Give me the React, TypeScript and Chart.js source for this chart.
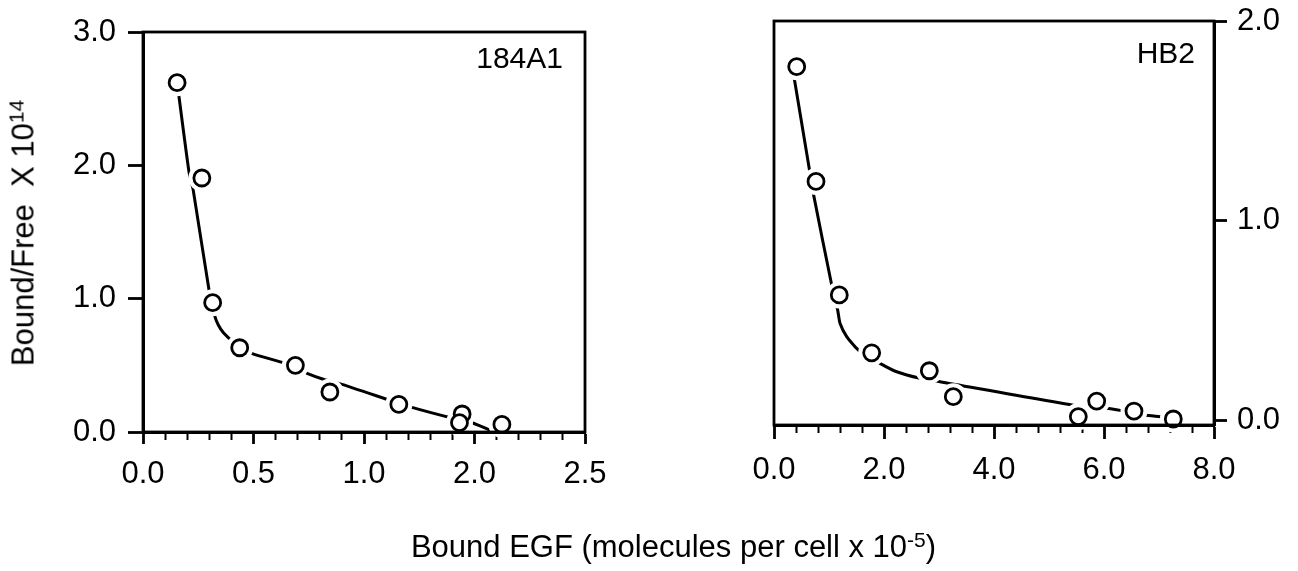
import React, { useEffect, useRef } from "react";
import { Chart, registerables } from "chart.js";

Chart.register(...registerables);

const FONT_FAMILY = '"Liberation Sans", Arial, Helvetica, sans-serif';

// ---------- Panel 1 : 184A1 ----------
const panel1Name = "184A1";
const panel1Bound = [0.193, 0.333, 0.394, 0.547, 0.862, 1.057, 1.447, 1.805, 1.79, 2.03];
const panel1Ratio = [2.62, 1.905, 0.97, 0.632, 0.5, 0.3, 0.207, 0.135, 0.07, 0.057];
const panel1FitBound = [0.193, 0.26, 0.284, 0.375, 0.407, 0.426, 0.455, 0.511, 0.615, 0.805, 0.928, 1.032, 1.108, 1.392, 1.506, 1.752, 1.847, 1.97];
const panel1FitRatio = [2.623, 1.952, 1.815, 1.052, 0.865, 0.803, 0.745, 0.677, 0.59, 0.515, 0.44, 0.39, 0.365, 0.24, 0.19, 0.103, 0.077, 0.01];
const panel1XTickLabels = ["0.0", "0.5", "1.0", "2.0", "2.5"];
const panel1YTickValues = [0, 1, 2, 3];
const panel1YTickLabels = ["0.0", "1.0", "2.0", "3.0"];

// ---------- Panel 2 : HB2 ----------
const panel2Name = "HB2";
const panel2Bound = [0.413, 0.764, 1.187, 1.776, 2.824, 3.26, 5.533, 5.867, 6.545, 7.26];
const panel2Ratio = [1.771, 1.196, 0.627, 0.337, 0.247, 0.117, 0.017, 0.095, 0.045, 0.005];
const panel2FitBound = [0.333, 0.655, 0.715, 1.049, 1.158, 1.2, 1.322, 1.533, 1.927, 2.231, 2.655, 3.018, 5.595, 6.049, 6.322, 6.745, 7.078, 7.26];
const panel2FitRatio = [1.771, 1.237, 1.136, 0.677, 0.551, 0.485, 0.418, 0.351, 0.284, 0.242, 0.209, 0.192, 0.067, 0.059, 0.047, 0.025, 0.014, 0.005];
const panel2XTickLabels = ["0.0", "2.0", "4.0", "6.0", "8.0"];
const panel2YTickValues = [0, 1, 2];
const panel2YTickLabels = ["0.0", "1.0", "2.0"];

// ---------- Shared titles ----------
const yTitleMain = "Bound/Free\u00a0 X 10";
const yTitleSup = "14";
const xTitleMain = "Bound EGF (molecules per cell x 10";
const xTitleSup = "-5";
const xTitleEnd = ")";

const MINOR_PER_MAJOR = 5;

function pts(xs: number[], ys: number[]) {
  return xs.map((x, i) => ({ x, y: ys[i] }));
}

const framePlugin = {
  id: "frame",
  afterDraw(chart: any, _args: any, opts: any) {
    const { ctx, chartArea: a } = chart;
    ctx.save();
    ctx.strokeStyle = "#000";
    ctx.lineWidth = 2.8;
    ctx.strokeRect(a.left, a.top, a.right - a.left, a.bottom - a.top);
    ctx.fillStyle = "#000";
    ctx.font = `30px ${FONT_FAMILY}`;
    ctx.textAlign = "right";
    ctx.textBaseline = "alphabetic";
    ctx.fillText(opts.name, a.right - opts.insetX, a.top + opts.insetY);
    ctx.restore();
  },
};

type Spec = {
  name: string;
  bound: number[];
  ratio: number[];
  fitBound: number[];
  fitRatio: number[];
  xMax: number;
  xTickLabels: string[];
  yMin: number;
  yMax: number;
  yTickValues: number[];
  yTickLabels: string[];
  yPosition: "left" | "right";
  yWidth: number;
  xHeight: number;
  padding: { left: number; right: number; top: number; bottom: number };
  xTickLength: number;
  xPad: number;
  yTickLength: number;
  yPad: number;
  insetX: number;
  insetY: number;
};

function buildConfig(s: Spec): any {
  const nMajor = s.xTickLabels.length - 1;
  const nTicks = nMajor * MINOR_PER_MAJOR + 1;
  const step = s.xMax / (nTicks - 1);
  const font = { family: FONT_FAMILY, size: 31 };
  return {
    type: "scatter",
    data: {
      datasets: [
        {
          label: "points",
          order: 0,
          data: pts(s.bound, s.ratio),
          pointRadius: 8,
          pointBorderWidth: 2.8,
          pointBackgroundColor: "#ffffff",
          pointBorderColor: "#000000",
          showLine: false,
          clip: false,
        },
        {
          label: "halo",
          order: 1,
          data: pts(s.bound, s.ratio),
          pointRadius: 13.5,
          pointBorderWidth: 0,
          pointBackgroundColor: "#ffffff",
          pointBorderColor: "#ffffff",
          showLine: false,
          clip: false,
        },
        {
          label: "fit",
          order: 2,
          data: pts(s.fitBound, s.fitRatio),
          showLine: true,
          borderColor: "#000000",
          borderWidth: 3,
          pointRadius: 0,
          tension: 0.2,
          clip: false,
        },
      ],
    },
    options: {
      responsive: false,
      animation: false,
      devicePixelRatio: 1,
      layout: { padding: s.padding },
      plugins: {
        legend: { display: false },
        tooltip: { enabled: false },
        frame: { name: s.name, insetX: s.insetX, insetY: s.insetY },
      },
      scales: {
        x: {
          type: "linear",
          position: "bottom",
          min: 0,
          max: s.xMax,
          afterBuildTicks: (scale: any) => {
            scale.ticks = Array.from({ length: nTicks }, (_, i) => ({ value: i * step }));
          },
          afterFit: (scale: any) => {
            scale.height = s.xHeight;
            scale.paddingLeft = 0;
            scale.paddingRight = 0;
          },
          ticks: {
            autoSkip: false,
            maxRotation: 0,
            minRotation: 0,
            padding: s.xPad,
            color: "#000",
            font,
            callback: (_v: any, i: number) =>
              i % MINOR_PER_MAJOR === 0 ? s.xTickLabels[i / MINOR_PER_MAJOR] : "",
          },
          grid: {
            drawOnChartArea: false,
            drawTicks: true,
            tickLength: s.xTickLength,
            tickColor: "#000",
            tickWidth: (ctx: any) => (ctx.index % MINOR_PER_MAJOR === 0 ? 2.8 : 2),
            tickBorderDash: (ctx: any) => (ctx.index % MINOR_PER_MAJOR === 0 ? [] : [6, 100]),
          },
          border: { display: true, color: "#000", width: 3, z: 1 },
        },
        y: {
          type: "linear",
          position: s.yPosition,
          min: s.yMin,
          max: s.yMax,
          afterBuildTicks: (scale: any) => {
            scale.ticks = s.yTickValues.map((v) => ({ value: v }));
          },
          afterFit: (scale: any) => {
            scale.width = s.yWidth;
            scale.paddingTop = 0;
            scale.paddingBottom = 0;
          },
          ticks: {
            autoSkip: false,
            padding: s.yPad,
            color: "#000",
            font,
            callback: (_v: any, i: number) => s.yTickLabels[i],
          },
          grid: {
            drawOnChartArea: false,
            drawTicks: true,
            tickLength: s.yTickLength,
            tickColor: "#000",
            tickWidth: 2.8,
          },
          border: { display: true, color: "#000", width: 3, z: 1 },
        },
      },
    },
    plugins: [framePlugin],
  };
}

const spec1: Spec = {
  name: panel1Name, bound: panel1Bound, ratio: panel1Ratio, fitBound: panel1FitBound, fitRatio: panel1FitRatio,
  xMax: 2.5, xTickLabels: panel1XTickLabels, yMin: 0, yMax: 3, yTickValues: panel1YTickValues, yTickLabels: panel1YTickLabels,
  yPosition: "left", yWidth: 143, xHeight: 139, padding: { left: 0, right: 55, top: 32, bottom: 0 },
  xTickLength: 12, xPad: 12, yTickLength: 15, yPad: 12, insetX: 22, insetY: 36,
};

const spec2: Spec = {
  name: panel2Name, bound: panel2Bound, ratio: panel2Ratio, fitBound: panel2FitBound, fitRatio: panel2FitRatio,
  xMax: 8, xTickLabels: panel2XTickLabels, yMin: -0.025, yMax: 2, yTickValues: panel2YTickValues, yTickLabels: panel2YTickLabels,
  yPosition: "right", yWidth: 84, xHeight: 146, padding: { left: 134, right: 0, top: 21, bottom: 0 },
  xTickLength: 14, xPad: 13, yTickLength: 13, yPad: 10, insetX: 19, insetY: 42,
};

function Panel({ spec, left, width }: { spec: Spec; left: number; width: number }) {
  const ref = useRef<HTMLCanvasElement | null>(null);
  useEffect(() => {
    if (!ref.current) return;
    const chart = new Chart(ref.current, buildConfig(spec));
    return () => chart.destroy();
  }, [spec]);
  return (
    <canvas ref={ref} width={width} height={571} style={{ position: "absolute", left, top: 0, width, height: 571 }} />
  );
}

export default function App() {
  const textStyle: React.CSSProperties = {
    position: "absolute", fontFamily: FONT_FAMILY, fontSize: 31, lineHeight: "31px", whiteSpace: "nowrap", color: "#000",
  };
  const supStyle: React.CSSProperties = {
    fontSize: 21, verticalAlign: "baseline", position: "relative", top: -10, lineHeight: 0,
  };
  return (
    <div style={{ position: "fixed", left: 0, top: 0, width: 1298, height: 571, background: "#fff", overflow: "hidden" }}>
      <Panel spec={spec1} left={0} width={640} />
      <Panel spec={spec2} left={640} width={658} />
      <div style={{ ...textStyle, left: 23, top: 232.5, transform: "translate(-50%, -50%) rotate(-90deg)" }}>
        {yTitleMain}
        <sup style={supStyle}>{yTitleSup}</sup>
      </div>
      <div style={{ ...textStyle, left: 673.5, top: 546, transform: "translate(-50%, -50%)" }}>
        {xTitleMain}
        <sup style={supStyle}>{xTitleSup}</sup>
        {xTitleEnd}
      </div>
    </div>
  );
}
